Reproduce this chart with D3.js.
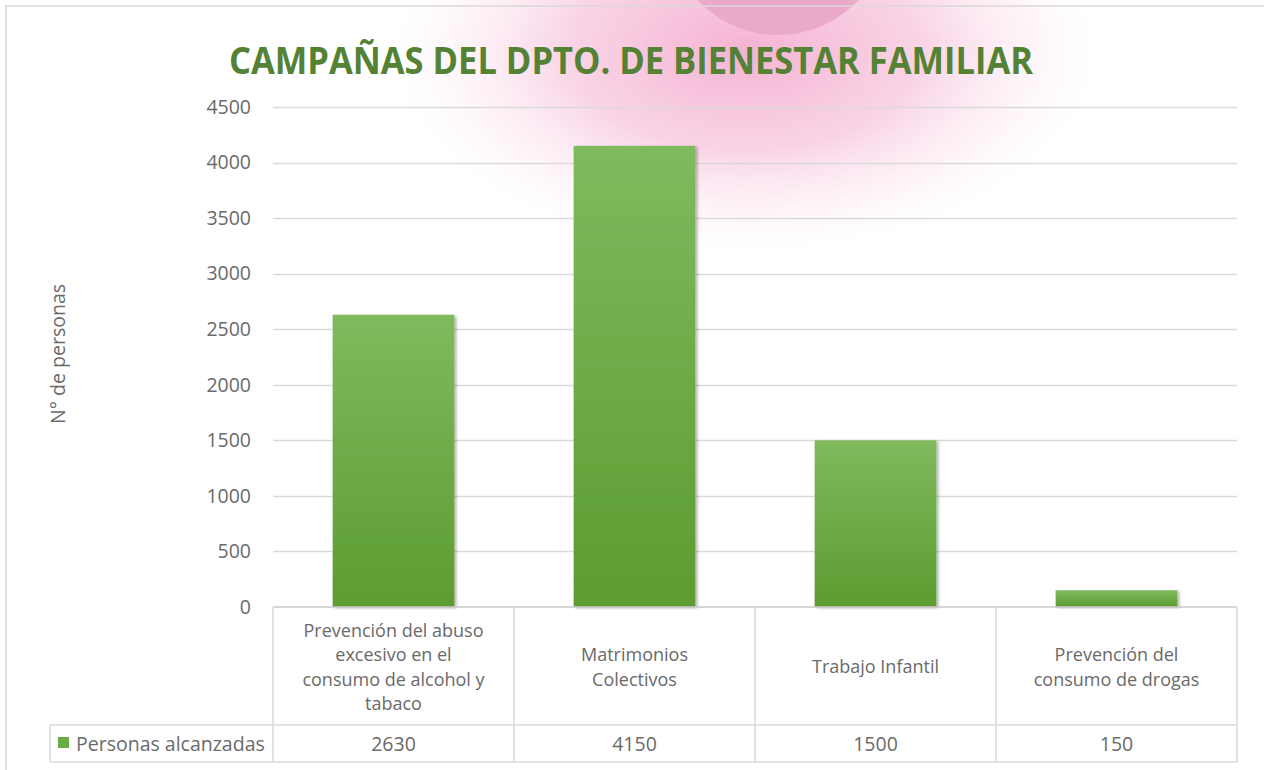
<!DOCTYPE html>
<html lang="es">
<head>
<meta charset="utf-8">
<title>Campañas del Dpto. de Bienestar Familiar</title>
<script src="https://d3js.org/d3.v7.min.js"></script>
<style>
  body { margin: 0; background: #fff; }
  svg { display: block; }
  .tick-lbl { font-family: "Open Sans", sans-serif; font-size: 19.5px; fill: #6a6a6a; }
  .cell { font-family: "Open Sans", sans-serif; font-size: 19.5px; fill: #6a6a6a; }
  .cat { font-family: "Open Sans", sans-serif; font-size: 18px; fill: #6a6a6a; }
  .title { font-family: "Open Sans", sans-serif; font-size: 37px; font-weight: bold; fill: #548235; }
</style>
</head>
<body>
<svg width="1264" height="770"></svg>
<script>
// chart data
const categories = [
  "Prevención del abuso\nexcesivo en el\nconsumo de alcohol y\ntabaco",
  "Matrimonios\nColectivos",
  "Trabajo Infantil",
  "Prevención del\nconsumo de drogas"
];
const personas = [2630, 4150, 1500, 150];
const yTicks = [0, 500, 1000, 1500, 2000, 2500, 3000, 3500, 4000, 4500];
const seriesName = "Personas alcanzadas";

const svg = d3.select("svg");
const defs = svg.append("defs");

// pink glow behind the title
const glow = defs.append("radialGradient").attr("id", "glow");
glow.append("stop").attr("offset", "0%").attr("stop-color", "#f4aacd").attr("stop-opacity", 0.9);
glow.append("stop").attr("offset", "50%").attr("stop-color", "#f6bcd8").attr("stop-opacity", 0.65);
glow.append("stop").attr("offset", "100%").attr("stop-color", "#fbe3ef").attr("stop-opacity", 0);

const disc = defs.append("radialGradient").attr("id", "disc").attr("cy", "30%");
disc.append("stop").attr("offset", "0%").attr("stop-color", "#f9d0e3");
disc.append("stop").attr("offset", "85%").attr("stop-color", "#f4bcd7");
disc.append("stop").attr("offset", "100%").attr("stop-color", "#eaa9c8");

const barGrad = defs.append("linearGradient").attr("id", "bar")
  .attr("x1", 0).attr("y1", 0).attr("x2", 0).attr("y2", 1);
barGrad.append("stop").attr("offset", "0%").attr("stop-color", "#7fba5e");
barGrad.append("stop").attr("offset", "100%").attr("stop-color", "#5c9c30");

const shadow = defs.append("filter").attr("id", "shadow")
  .attr("x", "-10%").attr("y", "-10%").attr("width", "125%").attr("height", "120%");
shadow.append("feDropShadow").attr("dx", 2).attr("dy", 1).attr("stdDeviation", 1.6)
  .attr("flood-color", "#000").attr("flood-opacity", 0.3);

svg.append("ellipse").attr("cx", 745).attr("cy", 50).attr("rx", 350).attr("ry", 200)
  .attr("fill", "url(#glow)");
svg.append("circle").attr("cx", 778).attr("cy", -75).attr("r", 110)
  .attr("fill", "url(#disc)");

// chart frame
svg.append("path").attr("d", "M6,770 V6 H1264")
  .attr("fill", "none").attr("stroke", "#d9d9d9").attr("stroke-width", 1.5);

// scales
const x = d3.scaleBand().domain(categories).range([273, 1237]).padding(0);
const y = d3.scaleLinear().domain([0, 4500]).range([607, 107]);
const barW = x.bandwidth() * 0.505;

// gridlines
svg.append("g").selectAll("line").data(yTicks.filter(d => d > 0)).join("line")
  .attr("x1", 273).attr("x2", 1237)
  .attr("y1", d => Math.round(y(d)) + 0.5).attr("y2", d => Math.round(y(d)) + 0.5)
  .attr("stroke", "#dadada").attr("stroke-width", 1.3);

// y axis labels
const yAxis = d3.axisLeft(y).tickValues(yTicks).tickFormat(d3.format("d")).tickSize(0).tickPadding(0);
const ya = svg.append("g").attr("transform", "translate(251,0)").call(yAxis);
ya.select(".domain").remove();
ya.attr("font-size", null).attr("font-family", null);
ya.selectAll("text").attr("class", "tick-lbl").attr("fill", null);

svg.append("text").attr("class", "tick-lbl")
  .attr("transform", "translate(65,354) rotate(-90)")
  .attr("text-anchor", "middle")
  .text("N° de personas");

// title
svg.append("text").attr("class", "title")
  .attr("x", 229).attr("y", 74)
  .attr("textLength", 804).attr("lengthAdjust", "spacingAndGlyphs")
  .text("CAMPAÑAS DEL DPTO. DE BIENESTAR FAMILIAR");

// bars
svg.append("g").selectAll("rect").data(personas).join("rect")
  .attr("x", (d, i) => x(categories[i]) + (x.bandwidth() - barW) / 2)
  .attr("y", d => y(d))
  .attr("width", barW)
  .attr("height", d => y(0) - y(d))
  .attr("fill", "url(#bar)")
  .attr("filter", "url(#shadow)");

// data table
const tbl = svg.append("g").attr("stroke", "#d9d9d9").attr("stroke-width", 1.5).attr("fill", "none");
tbl.append("line").attr("x1", 273).attr("x2", 1237).attr("y1", 607).attr("y2", 607).attr("stroke", "#c8c8c8");
tbl.append("line").attr("x1", 50).attr("x2", 1237).attr("y1", 725).attr("y2", 725);
tbl.append("line").attr("x1", 50).attr("x2", 1237).attr("y1", 762).attr("y2", 762);
tbl.append("line").attr("x1", 50).attr("x2", 50).attr("y1", 725).attr("y2", 762);
const cols = categories.map(c => x(c)).concat([x.range()[1]]);
tbl.selectAll(".vl").data(cols).join("line").attr("class", "vl")
  .attr("x1", d => d).attr("x2", d => d).attr("y1", 607).attr("y2", 762);

// category labels
const lineH = 24.5;
svg.append("g").selectAll("text").data(categories).join("text")
  .attr("class", "cat").attr("text-anchor", "middle")
  .each(function(c) {
    const lines = c.split("\n");
    const cx = x(c) + x.bandwidth() / 2;
    const y0 = 667 - (lines.length - 1) * lineH / 2;
    d3.select(this).selectAll("tspan").data(lines).join("tspan")
      .attr("x", cx).attr("y", (l, j) => y0 + j * lineH).attr("dy", "0.35em")
      .text(l => l);
  });

// values row
svg.append("g").selectAll("text").data(personas).join("text")
  .attr("class", "cell").attr("text-anchor", "middle")
  .attr("x", (d, i) => x(categories[i]) + x.bandwidth() / 2)
  .attr("y", 744).attr("dy", "0.35em")
  .text(d => d);

// legend key
svg.append("rect").attr("x", 58).attr("y", 737).attr("width", 11).attr("height", 11).attr("fill", "#6aab43");
svg.append("text").attr("class", "cell").attr("x", 76).attr("y", 744).attr("dy", "0.35em")
  .text(seriesName);
</script>
</body>
</html>
